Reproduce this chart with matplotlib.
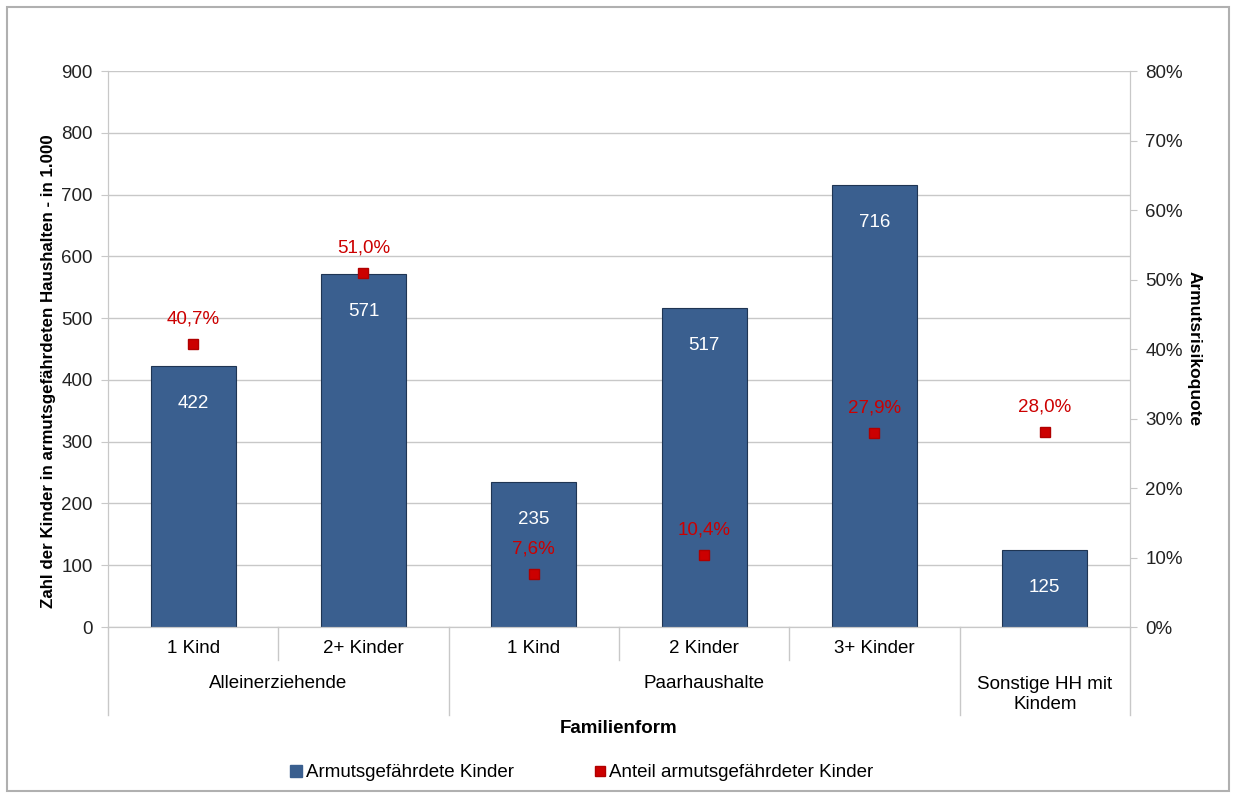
import matplotlib.pyplot as plt
from matplotlib.patches import Rectangle
from matplotlib.lines import Line2D
import matplotlib.transforms as mtransforms

plt.rcParams['font.family'] = ['Liberation Sans', 'DejaVu Sans']

sub_labels = ['1 Kind', '2+ Kinder', '1 Kind', '2 Kinder', '3+ Kinder', '']
group_labels = ['Alleinerziehende', 'Paarhaushalte', 'Sonstige HH mit\nKindem']
group_spans = [(0, 2), (2, 5), (5, 6)]
kinder = [422, 571, 235, 517, 716, 125]
anteil = [40.7, 51.0, 7.6, 10.4, 27.9, 28.0]
anteil_txt = ['40,7%', '51,0%', '7,6%', '10,4%', '27,9%', '28,0%']

bar_col = '#3a5f8f'
red = '#cc0000'
grid_col = '#c8c8c8'
fs = 13.5

fig = plt.figure(figsize=(12.34, 7.96), dpi=100)
fig.patches.append(Rectangle((0.006, 0.006), 0.99, 0.985, transform=fig.transFigure,
                             fill=False, edgecolor='#b0b0b0', lw=1.5))
ax = fig.add_axes([0.0875, 0.2123, 0.8282, 0.6985])
ax2 = ax.twinx()

x = list(range(len(kinder)))
ax.bar(x, kinder, width=0.5, color=bar_col, edgecolor='#1f3553', lw=0.8, zorder=2)
ax.set_xlim(-0.5, len(kinder) - 0.5)
ax.set_ylim(0, 900)
ax.set_yticks(range(0, 901, 100))
ax.grid(axis='y', color=grid_col, lw=1, zorder=0)
ax.set_axisbelow(True)
for i, v in enumerate(kinder):
    ax.annotate(str(v), (i, v), xytext=(0, -27), textcoords='offset points',
                ha='center', va='center', color='white', fontsize=fs, zorder=3)

ax2.set_ylim(0, 80)
ax2.set_yticks(range(0, 81, 10))
ax2.set_yticklabels(['%d%%' % t for t in range(0, 81, 10)])
ax2.plot(x, anteil, ls='none', marker='s', ms=7, mfc=red, mec='#b00000', mew=1, zorder=4)
for i, v in enumerate(anteil):
    ax2.annotate(anteil_txt[i], (i, v), xytext=(0, 18), textcoords='offset points',
                 ha='center', va='center', color=red, fontsize=fs)

for a in (ax, ax2):
    a.spines['top'].set_visible(False)
    for s in ['left', 'right', 'bottom']:
        a.spines[s].set_color(grid_col)
    a.tick_params(axis='y', colors=grid_col, labelcolor='#222222', labelsize=fs, length=5, pad=6)
ax.set_xticks([])
ax2.set_xticks([])

ax.set_ylabel('Zahl der Kinder in armutsgefährdeten Haushalten - in 1.000',
              fontsize=12.2, fontweight='bold')
ax.yaxis.set_label_coords(-0.051, 0.46)
ax2.set_ylabel('Armutsrisikoquote', fontsize=12.5, fontweight='bold', rotation=-90)
ax2.yaxis.set_label_coords(1.070, 0.5)

# category axis below the plot
trans = mtransforms.blended_transform_factory(ax.transData, ax.transAxes)
for i, lab in enumerate(sub_labels):
    ax.text(i, -0.038, lab, transform=trans, ha='center', va='center', fontsize=fs)
long_edges = {-0.5, 1.5, 4.5, 5.5}
for e in [-0.5, 0.5, 1.5, 2.5, 3.5, 4.5, 5.5]:
    y0 = -0.158 if e in long_edges else -0.059
    ax.plot([e, e], [0, y0], transform=trans, color=grid_col, lw=1, clip_on=False)
for (a, b), lab in zip(group_spans, group_labels):
    yy = -0.101 if '\n' not in lab else -0.121
    ax.text((a + b - 1) / 2, yy, lab, transform=trans, ha='center', va='center',
            fontsize=fs, linespacing=1.2)
ax.text(0.5, -0.182, 'Familienform', transform=ax.transAxes, ha='center', va='center',
        fontsize=fs, fontweight='bold')

handles = [Line2D([], [], ls='none', marker='s', ms=8, mfc=bar_col, mec=bar_col),
           Line2D([], [], ls='none', marker='s', ms=7, mfc=red, mec='#b00000')]
fig.legend(handles, ['Armutsgefährdete Kinder', 'Anteil armutsgefährdeter Kinder'],
           loc='center', bbox_to_anchor=(0.471, 0.029), ncol=2, frameon=False,
           fontsize=fs, handletextpad=0.1, columnspacing=4.2, handlelength=0.8)

fig.savefig('out.png', dpi=100)
